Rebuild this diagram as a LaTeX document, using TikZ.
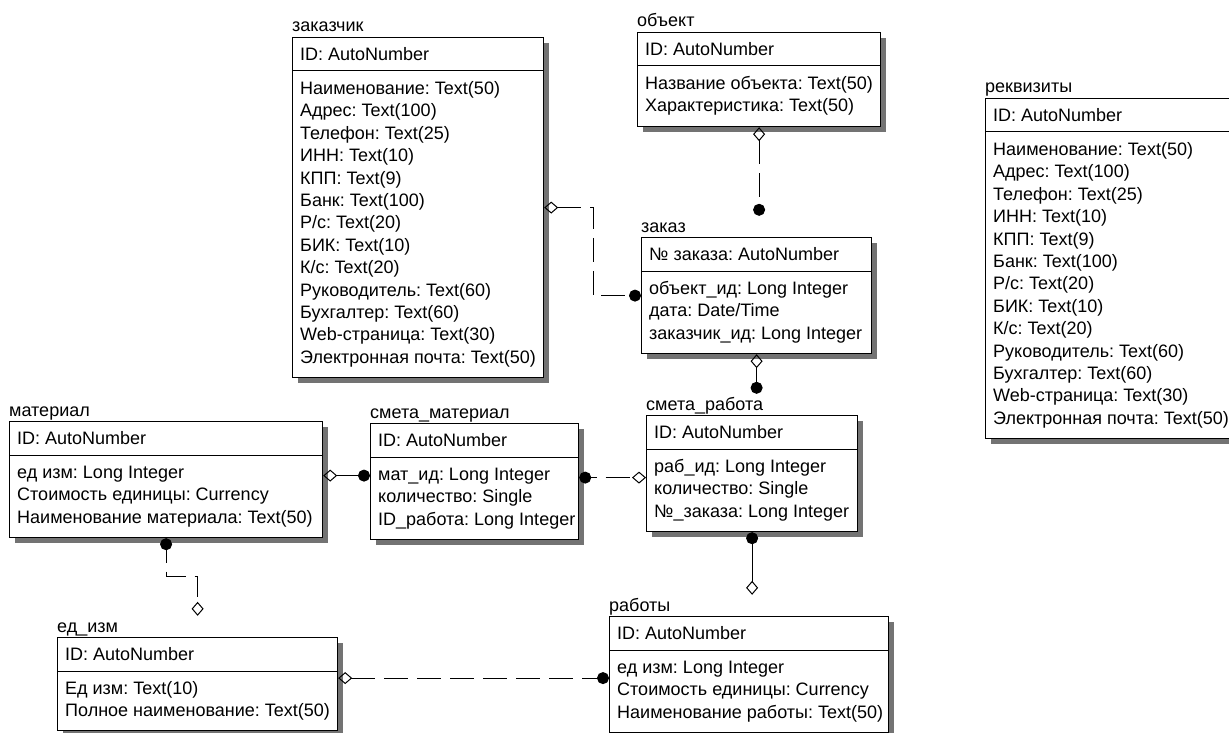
\documentclass[tikz,border=0pt]{standalone}
\usepackage{fontspec}
\setmainfont{Liberation Sans}
\usetikzlibrary{arrows.meta,shadows}

\tikzset{
  tbl/.style={draw, line width=1.2pt, fill=white, inner sep=0pt, anchor=north west,
    minimum width=#1,
    drop shadow={shadow xshift=5pt, shadow yshift=-5pt, fill=black!55, opacity=1}},
  ttl/.style={inner sep=0pt, anchor=base west, text height=16pt},
  fld/.style={inner sep=0pt, anchor=base west},
  hline/.style={line width=1pt},
  rel/.style={line width=1pt},
  nrel/.style={rel, dash pattern=on 24pt off 9pt},
  erdia/.tip={Diamond[open, length=14pt, width=12pt]},
  erdot/.tip={Circle[length=12pt]},
}

\begin{document}
\frenchspacing
\begin{tikzpicture}[x=1pt, y=-1pt, font=\fontsize{18}{20}\selectfont]
  \clip (0,0) rectangle (1229,733);

  % заказчик
  \node[tbl=251pt, minimum height=340pt] (zakazchik) at (292,37) {};
  \node[ttl] (zakazchik-t) at ([yshift=5pt]zakazchik.north west) {заказчик};
  \draw[hline] ([yshift=-34pt]zakazchik.north west) -- ([yshift=-34pt]zakazchik.north east);
  \node[fld] (zakazchik-id) at ([xshift=8pt, yshift=-23.5pt]zakazchik.north west) {ID: AutoNumber};
  \foreach \f [count=\i] in {Наименование: Text(50), Адрес: Text(100), Телефон: Text(25),
      ИНН: Text(10), КПП: Text(9), Банк: Text(100), Р/с: Text(20), БИК: Text(10), К/с: Text(20),
      Руководитель: Text(60), Бухгалтер: Text(60), Web-страница: Text(30), Электронная почта: Text(50)}
    \node[fld] (zakazchik-\i) at ([xshift=8pt, yshift={-57.5pt-(\i-1)*22.4pt}]zakazchik.north west) {\f};

  % объект
  \node[tbl=243pt, minimum height=94pt] (obekt) at (637,32) {};
  \node[ttl] (obekt-t) at ([yshift=5pt]obekt.north west) {объект};
  \draw[hline] ([yshift=-34pt]obekt.north west) -- ([yshift=-34pt]obekt.north east);
  \node[fld] (obekt-id) at ([xshift=8pt, yshift=-23.5pt]obekt.north west) {ID: AutoNumber};
  \foreach \f [count=\i] in {Название объекта: Text(50), Характеристика: Text(50)}
    \node[fld] (obekt-\i) at ([xshift=8pt, yshift={-57.5pt-(\i-1)*22.4pt}]obekt.north west) {\f};

  % реквизиты
  \node[tbl=260pt, minimum height=340pt] (rekvizity) at (985,98) {};
  \node[ttl] (rekvizity-t) at ([yshift=5pt]rekvizity.north west) {реквизиты};
  \draw[hline] ([yshift=-34pt]rekvizity.north west) -- ([yshift=-34pt]rekvizity.north east);
  \node[fld] (rekvizity-id) at ([xshift=8pt, yshift=-23.5pt]rekvizity.north west) {ID: AutoNumber};
  \foreach \f [count=\i] in {Наименование: Text(50), Адрес: Text(100), Телефон: Text(25),
      ИНН: Text(10), КПП: Text(9), Банк: Text(100), Р/с: Text(20), БИК: Text(10), К/с: Text(20),
      Руководитель: Text(60), Бухгалтер: Text(60), Web-страница: Text(30), Электронная почта: Text(50)}
    \node[fld] (rekvizity-\i) at ([xshift=8pt, yshift={-57.5pt-(\i-1)*22.4pt}]rekvizity.north west) {\f};

  % заказ
  \node[tbl=230pt, minimum height=116pt] (zakaz) at (641,237) {};
  \node[ttl] (zakaz-t) at ([yshift=5pt]zakaz.north west) {заказ};
  \draw[hline] ([yshift=-34pt]zakaz.north west) -- ([yshift=-34pt]zakaz.north east);
  \node[fld] (zakaz-id) at ([xshift=8pt, yshift=-23.5pt]zakaz.north west) {№ заказа: AutoNumber};
  \foreach \f [count=\i] in {объект\_ид: Long Integer, дата: Date/Time, заказчик\_ид: Long Integer}
    \node[fld] (zakaz-\i) at ([xshift=8pt, yshift={-57.5pt-(\i-1)*22.4pt}]zakaz.north west) {\f};

  % материал
  \node[tbl=313pt, minimum height=116pt] (material) at (9,421) {};
  \node[ttl] (material-t) at ([yshift=5pt]material.north west) {материал};
  \draw[hline] ([yshift=-34pt]material.north west) -- ([yshift=-34pt]material.north east);
  \node[fld] (material-id) at ([xshift=8pt, yshift=-23.5pt]material.north west) {ID: AutoNumber};
  \foreach \f [count=\i] in {ед изм: Long Integer, Стоимость единицы: Currency, Наименование материала: Text(50)}
    \node[fld] (material-\i) at ([xshift=8pt, yshift={-57.5pt-(\i-1)*22.4pt}]material.north west) {\f};

  % смета_материал
  \node[tbl=208pt, minimum height=116pt] (smetamat) at (370,423) {};
  \node[ttl] (smetamat-t) at ([yshift=5pt]smetamat.north west) {смета\_материал};
  \draw[hline] ([yshift=-34pt]smetamat.north west) -- ([yshift=-34pt]smetamat.north east);
  \node[fld] (smetamat-id) at ([xshift=8pt, yshift=-23.5pt]smetamat.north west) {ID: AutoNumber};
  \foreach \f [count=\i] in {мат\_ид: Long Integer, количество: Single, ID\_работа: Long Integer}
    \node[fld] (smetamat-\i) at ([xshift=8pt, yshift={-57.5pt-(\i-1)*22.4pt}]smetamat.north west) {\f};

  % смета_работа
  \node[tbl=211pt, minimum height=116pt] (smetarab) at (646,415) {};
  \node[ttl] (smetarab-t) at ([yshift=5pt]smetarab.north west) {смета\_работа};
  \draw[hline] ([yshift=-34pt]smetarab.north west) -- ([yshift=-34pt]smetarab.north east);
  \node[fld] (smetarab-id) at ([xshift=8pt, yshift=-23.5pt]smetarab.north west) {ID: AutoNumber};
  \foreach \f [count=\i] in {раб\_ид: Long Integer, количество: Single, №\_заказа: Long Integer}
    \node[fld] (smetarab-\i) at ([xshift=8pt, yshift={-57.5pt-(\i-1)*22.4pt}]smetarab.north west) {\f};

  % ед_изм
  \node[tbl=280pt, minimum height=93pt] (edizm) at (57,637) {};
  \node[ttl] (edizm-t) at ([yshift=5pt]edizm.north west) {ед\_изм};
  \draw[hline] ([yshift=-34pt]edizm.north west) -- ([yshift=-34pt]edizm.north east);
  \node[fld] (edizm-id) at ([xshift=8pt, yshift=-23.5pt]edizm.north west) {ID: AutoNumber};
  \foreach \f [count=\i] in {Ед изм: Text(10), Полное наименование: Text(50)}
    \node[fld] (edizm-\i) at ([xshift=8pt, yshift={-57.5pt-(\i-1)*22.4pt}]edizm.north west) {\f};

  % работы
  \node[tbl=279pt, minimum height=116pt] (raboty) at (609,616) {};
  \node[ttl] (raboty-t) at ([yshift=5pt]raboty.north west) {работы};
  \draw[hline] ([yshift=-34pt]raboty.north west) -- ([yshift=-34pt]raboty.north east);
  \node[fld] (raboty-id) at ([xshift=8pt, yshift=-23.5pt]raboty.north west) {ID: AutoNumber};
  \foreach \f [count=\i] in {ед изм: Long Integer, Стоимость единицы: Currency, Наименование работы: Text(50)}
    \node[fld] (raboty-\i) at ([xshift=8pt, yshift={-57.5pt-(\i-1)*22.4pt}]raboty.north west) {\f};

  % связи
  \draw[nrel, erdia-erdot] (obekt.south) -- (obekt.south |- zakaz-t.north);
  \draw[nrel, erdia-erdot] (zakazchik.east) -- ++(49,0) |- (zakaz.west);
  \draw[rel, erdia-erdot] (zakaz.south) -- (zakaz.south |- smetarab-t.north);
  \draw[rel, erdia-erdot] ([yshift=4pt]material.east) -- ([yshift=4pt]material.east -| smetamat.west);
  \draw[nrel, dash phase=18pt, erdot-erdia] ([yshift=4pt]smetamat.east) -- ([yshift=4pt]smetamat.east -| smetarab.west);
  \draw[rel, erdot-erdia] (smetarab.south) -- (smetarab.south |- raboty-t.north);
  \draw[nrel, dash phase=11pt, erdot-erdia] (material.south) -- ++(0,38) -| (edizm.north |- edizm-t.north);
  \draw[nrel, erdia-erdot] ([yshift=6pt]edizm.east) -- ([yshift=6pt]edizm.east -| raboty.west);
\end{tikzpicture}
\end{document}
